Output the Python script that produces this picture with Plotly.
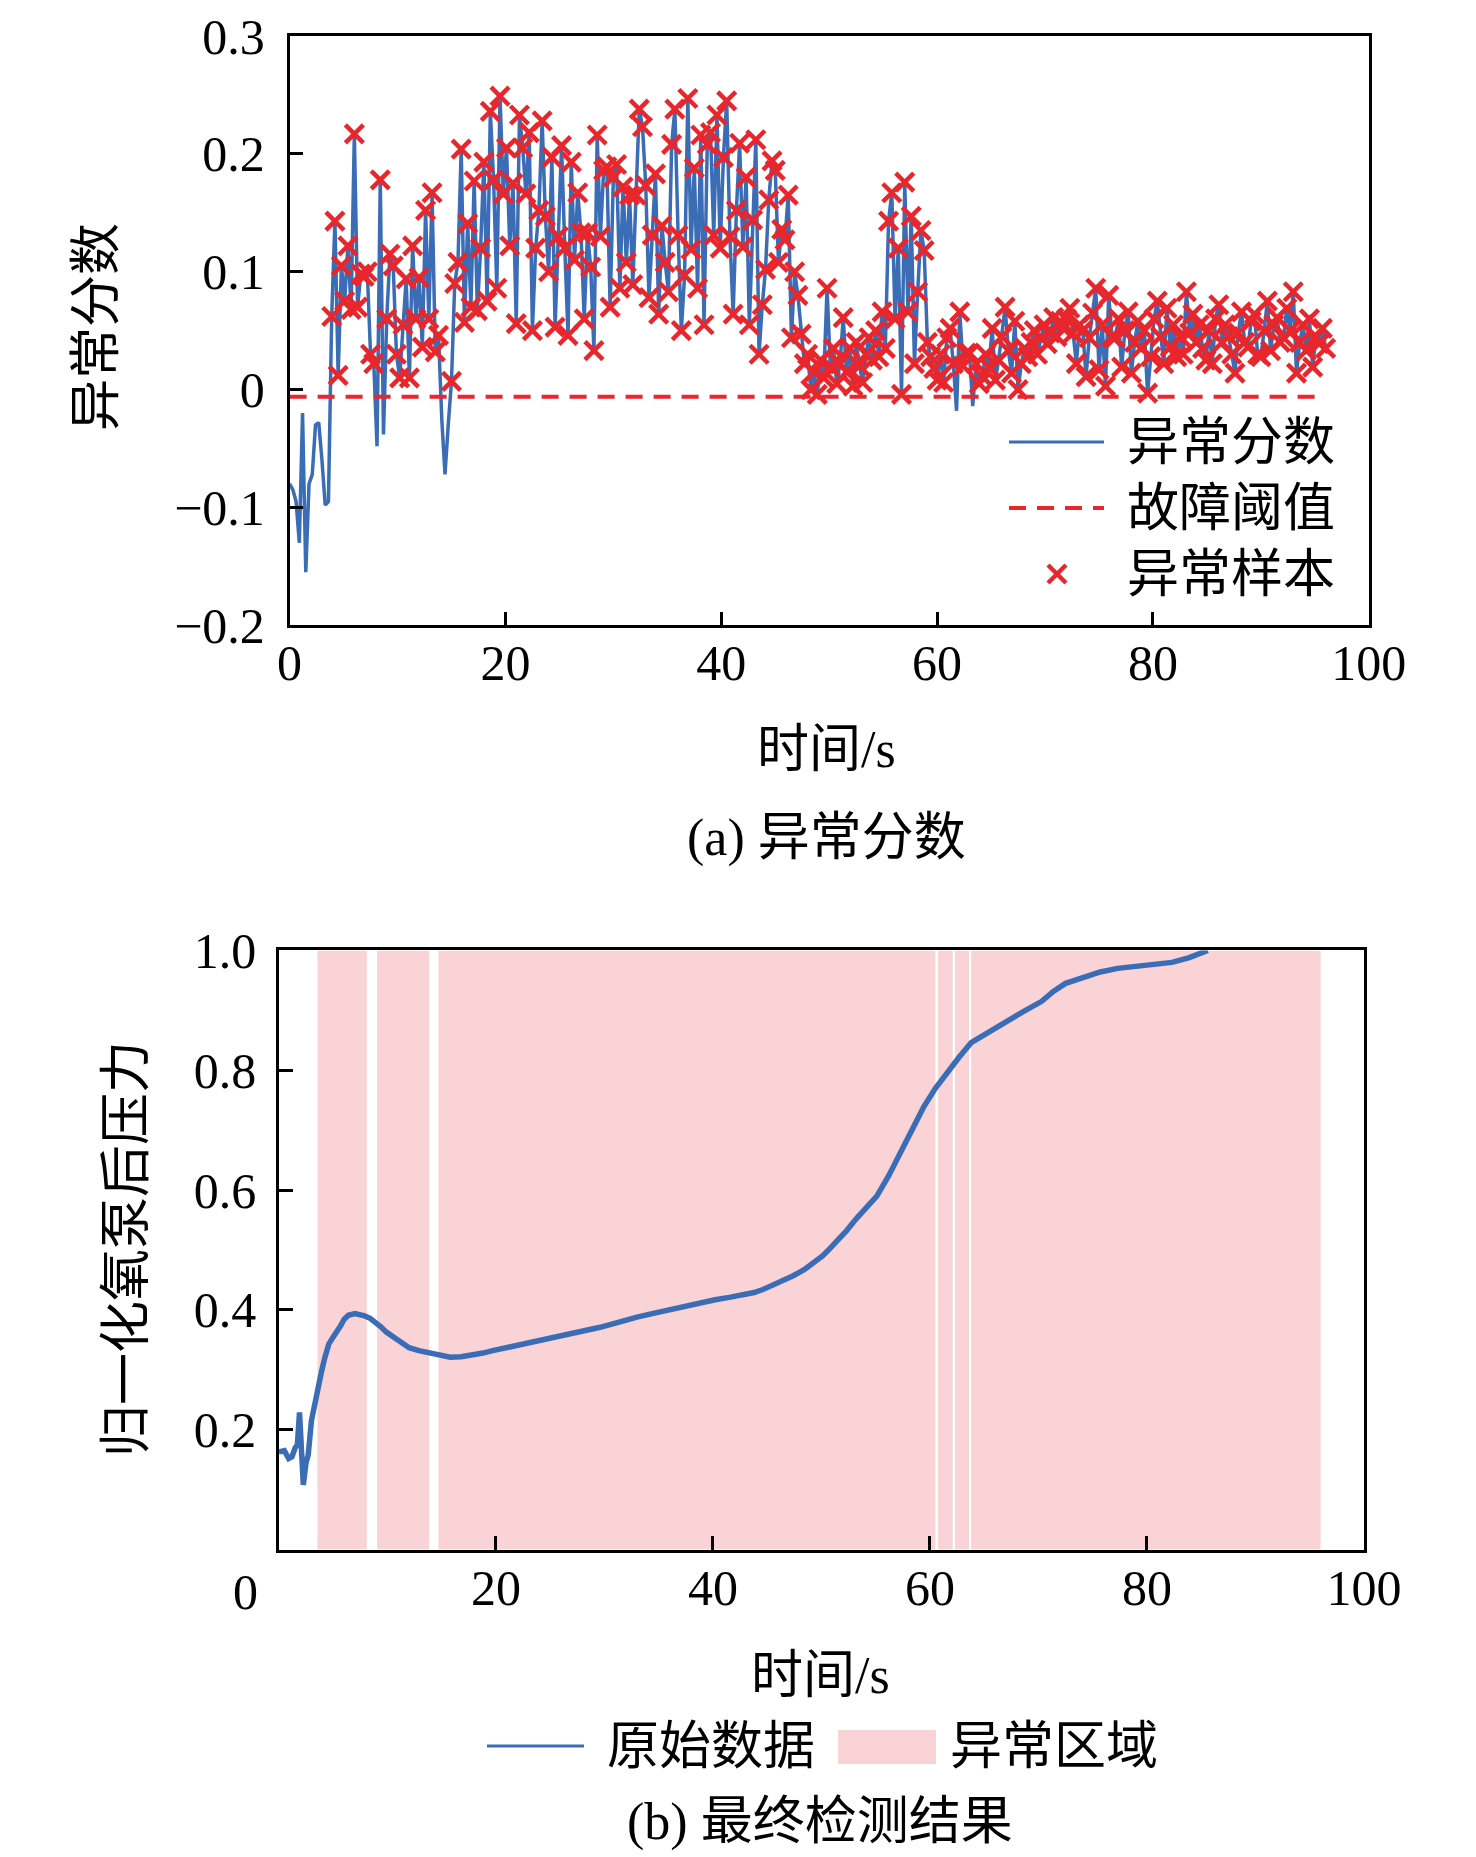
import plotly.graph_objects as go

BLUE = '#3a6db5'
RED = '#e8262c'
PINK = '#f9d3d5'
FONT = 'Liberation Serif, Noto Sans CJK SC'

# (a) anomaly score, one sample every 0.3 s
dt = 0.3
score = [
    -0.080, -0.085, -0.095, -0.130, -0.020, -0.155, -0.080, -0.072, -0.030, -0.028,
    -0.060, -0.098, -0.095, 0.062, 0.143, 0.012, 0.105, 0.075, 0.122, 0.068,
    0.217, 0.070, 0.098, 0.096, 0.100, 0.030, 0.022, -0.048, 0.178, -0.038,
    0.060, 0.115, 0.105, 0.030, 0.010, 0.055, 0.094, 0.010, 0.122, 0.060,
    0.095, 0.036, 0.152, 0.060, 0.167, 0.032, 0.046, -0.025, -0.072, -0.030,
    0.007, 0.090, 0.108, 0.204, 0.057, 0.141, 0.070, 0.177, 0.067, 0.120,
    0.193, 0.075, 0.236, 0.178, 0.086, 0.249, 0.166, 0.205, 0.122, 0.175,
    0.056, 0.233, 0.205, 0.166, 0.218, 0.050, 0.120, 0.152, 0.228, 0.147,
    0.100, 0.197, 0.053, 0.130, 0.207, 0.120, 0.046, 0.193, 0.110, 0.167,
    0.133, 0.060, 0.133, 0.104, 0.033, 0.216, 0.130, 0.186, 0.189, 0.070,
    0.180, 0.191, 0.086, 0.172, 0.108, 0.165, 0.089, 0.165, 0.238, 0.223,
    0.173, 0.078, 0.131, 0.183, 0.064, 0.139, 0.108, 0.083, 0.208, 0.238,
    0.131, 0.050, 0.097, 0.247, 0.119, 0.188, 0.086, 0.216, 0.055, 0.208,
    0.218, 0.131, 0.233, 0.120, 0.197, 0.245, 0.130, 0.064, 0.152, 0.209,
    0.121, 0.180, 0.055, 0.144, 0.212, 0.030, 0.072, 0.102, 0.161, 0.194,
    0.186, 0.108, 0.136, 0.127, 0.165, 0.044, 0.100, 0.080, 0.047, 0.022,
    0.030, 0.000, 0.015, -0.004, 0.025, 0.010, 0.086, 0.020, 0.035, 0.005,
    0.022, 0.061, 0.015, 0.035, 0.003, 0.040, 0.020, 0.006, 0.030, 0.044,
    0.025, 0.050, 0.028, 0.066, 0.035, 0.143, 0.167, 0.060, 0.120, -0.004,
    0.176, 0.066, 0.147, 0.022, 0.083, 0.135, 0.118, 0.040, 0.028, 0.018,
    0.008, 0.030, 0.006, 0.044, 0.052, 0.022, -0.018, 0.066, 0.020, 0.031,
    0.031, -0.014, 0.022, 0.005, 0.011, 0.030, 0.019, 0.052, 0.008, 0.025,
    0.045, 0.070, 0.033, 0.014, 0.058, 0.000, 0.022, 0.035, 0.028, 0.040,
    0.050, 0.030, 0.044, 0.055, 0.039, 0.048, 0.061, 0.045, 0.058, 0.052,
    0.060, 0.069, 0.048, 0.022, 0.055, 0.050, 0.011, 0.044, 0.065, 0.086,
    0.017, 0.055, 0.003, 0.080, 0.045, 0.044, 0.060, 0.019, 0.050, 0.066,
    0.014, 0.040, 0.058, 0.035, 0.050, -0.003, 0.028, 0.060, 0.075, 0.045,
    0.022, 0.069, 0.036, 0.055, 0.028, 0.045, 0.030, 0.083, 0.048, 0.064,
    0.040, 0.055, 0.035, 0.025, 0.050, 0.022, 0.060, 0.072, 0.040, 0.055,
    0.045, 0.030, 0.014, 0.048, 0.066, 0.040, 0.036, 0.058, 0.064, 0.030,
    0.028, 0.050, 0.075, 0.033, 0.055, 0.061, 0.040, 0.044, 0.069, 0.050,
    0.083, 0.014, 0.040, 0.055, 0.033, 0.060, 0.019, 0.045, 0.039, 0.052,
    0.035,
]
threshold = -0.006
time_a = [round(i * dt, 1) for i in range(len(score))]

# (b) normalised pressure after the oxygen pump
time_b = [0.0, 0.5, 0.9, 1.2, 1.5, 1.7, 1.9, 2.05, 2.25, 2.5, 2.7, 3.0, 3.3, 3.55,
          3.9, 4.2, 4.6, 4.9, 5.3, 5.7, 6.0, 6.4, 7.0, 7.5, 7.9, 8.4, 8.9, 9.4,
          9.9, 10.5, 11.2, 12.0, 12.9, 13.5, 14.2, 15.0, 15.8, 16.8, 17.8, 18.8,
          19.7, 21.0, 22.4, 23.7, 25.0, 26.2, 27.3, 28.5, 29.6, 30.6, 31.6, 33.0,
          34.2, 35.2, 36.2, 37.5, 38.8, 40.2, 41.5, 42.7, 43.8, 44.6, 45.4, 46.4,
          47.4, 48.4, 49.4, 50.1, 50.7, 51.5, 52.3, 53.2, 54.1, 55.1, 56.2, 57.2,
          58.3, 59.4, 60.5, 61.6, 62.7, 63.8, 65.4, 67.0, 68.6, 70.3, 71.4, 72.5,
          74.0, 75.7, 77.3, 79.0, 80.6, 82.3, 83.9, 85.0, 85.6]
pressure = [0.163, 0.165, 0.152, 0.155, 0.170, 0.175, 0.229, 0.150, 0.108, 0.145,
            0.158, 0.215, 0.245, 0.268, 0.295, 0.318, 0.343, 0.352, 0.362, 0.374,
            0.384, 0.391, 0.394, 0.392, 0.390, 0.386, 0.380, 0.372, 0.363, 0.356,
            0.346, 0.337, 0.332, 0.330, 0.327, 0.325, 0.321, 0.322, 0.324, 0.328,
            0.332, 0.337, 0.343, 0.348, 0.352, 0.358, 0.363, 0.367, 0.371, 0.376,
            0.382, 0.388, 0.393, 0.397, 0.401, 0.407, 0.413, 0.417, 0.421, 0.425,
            0.429, 0.434, 0.440, 0.448, 0.457, 0.467, 0.479, 0.490, 0.501, 0.515,
            0.532, 0.552, 0.570, 0.590, 0.624, 0.659, 0.698, 0.738, 0.770, 0.797,
            0.822, 0.846, 0.864, 0.882, 0.898, 0.915, 0.932, 0.945, 0.955, 0.964,
            0.970, 0.974, 0.977, 0.980, 0.988, 0.995, 1.000]
region_start = [3.55, 9.05, 14.7, 60.75, 62.3, 63.8]
region_end = [8.1, 13.85, 60.5, 62.1, 63.6, 96.0]

x_ticks = [0, 20, 40, 60, 80, 100]
ya_ticks = [-0.2, -0.1, 0, 0.1, 0.2, 0.3]
ya_labels = ['\u22120.2', '\u22120.1', '0', '0.1', '0.2', '0.3']
yb_ticks = [0.2, 0.4, 0.6, 0.8, 1.0]
yb_labels = ['0.2', '0.4', '0.6', '0.8', '1.0']

W, H = 1476, 1857
PAD = 8


def px(x):
    return (x - PAD) / W


def py(y):
    return 1 - (y - PAD) / H


fig = go.Figure()

# top panel
fig.add_trace(go.Scatter(x=time_a, y=score, mode='lines', line=dict(color=BLUE, width=3.5),
                         xaxis='x', yaxis='y'))
fig.add_trace(go.Scatter(x=[time_a[0], time_a[-1]], y=[threshold, threshold], mode='lines',
                         line=dict(color=RED, width=4, dash='17px,11px'), xaxis='x', yaxis='y'))
mk_t = [t for t, v in zip(time_a, score) if v > threshold]
mk_v = [v for v in score if v > threshold]
fig.add_trace(go.Scatter(x=mk_t, y=mk_v, mode='markers',
                         marker=dict(symbol='x-thin', size=18, line=dict(width=4.5, color=RED)),
                         xaxis='x', yaxis='y'))

# bottom panel
centers = [(a + b) / 2 for a, b in zip(region_start, region_end)]
widths = [b - a for a, b in zip(region_start, region_end)]
fig.add_trace(go.Bar(x=centers, y=[yb_ticks[-1]] * len(centers), width=widths, base=0,
                     marker=dict(color=PINK, line=dict(width=0)), xaxis='x2', yaxis='y2'))
fig.add_trace(go.Scatter(x=time_b, y=pressure, mode='lines', line=dict(color=BLUE, width=5.5),
                         xaxis='x2', yaxis='y2'))

axis_style = dict(showline=True, mirror=True, linecolor='black', linewidth=2.5,
                  ticks='inside', ticklen=14, tickwidth=2.5, tickcolor='black',
                  showgrid=False, zeroline=False, automargin=False,
                  ticklabeloverflow='allow',
                  tickfont=dict(family=FONT, size=50, color='black'))

fig.update_layout(
    width=W, height=H, margin=dict(l=0, r=0, t=0, b=0),
    paper_bgcolor='white', plot_bgcolor='white', showlegend=False,
    xaxis=dict(domain=[px(289.6), px(1368.8)], range=[0, 100], tickvals=x_ticks, anchor='y',
               ticklabelstandoff=-8, **axis_style),
    yaxis=dict(domain=[py(625.3), py(36)], range=[-0.2, 0.3], tickvals=ya_ticks,
               ticktext=ya_labels, anchor='x', ticklabelstandoff=12, **axis_style),
    xaxis2=dict(domain=[px(278.9), px(1364)], range=[0, 100], tickvals=x_ticks[1:], anchor='y2',
                ticklabelstandoff=-7, **axis_style),
    yaxis2=dict(domain=[py(1549.6), py(950.4)], range=[0, 1.0], tickvals=yb_ticks,
                ticktext=yb_labels, anchor='x2', ticklabelstandoff=10, **axis_style),
)

txt = dict(family=FONT, size=52, color='black')
ann = [
    dict(x=px(97), y=py(327), text='异常分数', textangle=-90),
    dict(x=px(826), y=py(749), text='时间/s'),
    dict(x=px(826), y=py(838), text='(a) 异常分数'),
    dict(x=px(126), y=py(1249), text='归一化氧泵后压力', textangle=-90),
    dict(x=px(820), y=py(1675), text='时间/s'),
    dict(x=px(820), y=py(1822), text='(b) 最终检测结果'),
    dict(x=px(245), y=py(1592), text='0', font=dict(family=FONT, size=50, color='black')),
    dict(x=px(1125), y=py(442), text='异常分数', xanchor='left'),
    dict(x=px(1125), y=py(508), text='故障阈值', xanchor='left'),
    dict(x=px(1125), y=py(574), text='异常样本', xanchor='left'),
    dict(x=px(605), y=py(1746), text='原始数据', xanchor='left'),
    dict(x=px(948), y=py(1746), text='异常区域', xanchor='left'),
]
for a in ann:
    a.setdefault('xanchor', 'center')
    a.setdefault('font', txt)
    fig.add_annotation(xref='paper', yref='paper', yanchor='middle', showarrow=False, **a)

# hand-made legend symbols
fig.add_shape(type='line', xref='paper', yref='paper', x0=px(1009), x1=px(1104),
              y0=py(442), y1=py(442), line=dict(color=BLUE, width=3))
fig.add_shape(type='line', xref='paper', yref='paper', x0=px(1009), x1=px(1104),
              y0=py(508), y1=py(508), line=dict(color=RED, width=4, dash='17px,11px'))
fig.add_shape(type='line', xref='paper', yref='paper', x0=px(1048), x1=px(1066),
              y0=py(565), y1=py(583), line=dict(color=RED, width=4.5))
fig.add_shape(type='line', xref='paper', yref='paper', x0=px(1048), x1=px(1066),
              y0=py(583), y1=py(565), line=dict(color=RED, width=4.5))
fig.add_shape(type='line', xref='paper', yref='paper', x0=px(487), x1=px(584),
              y0=py(1746), y1=py(1746), line=dict(color=BLUE, width=3))
fig.add_shape(type='rect', xref='paper', yref='paper', x0=px(838), x1=px(936),
              y0=py(1764), y1=py(1730), fillcolor=PINK, line=dict(width=0))

fig.write_html('out.html')
